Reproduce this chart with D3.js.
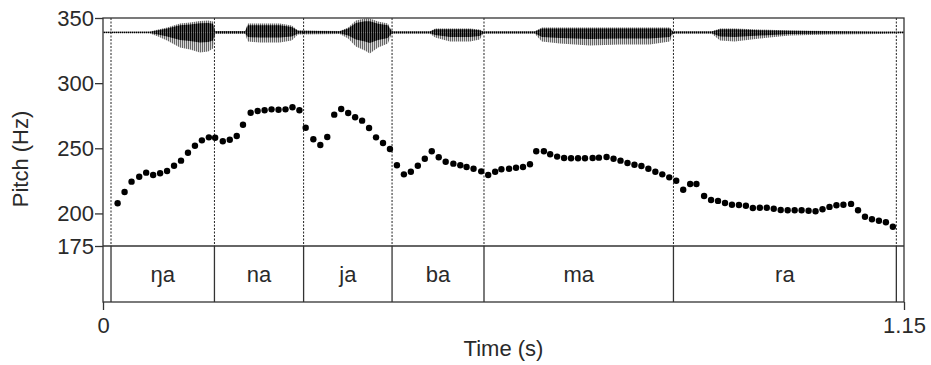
<!DOCTYPE html>
<html>
<head>
<meta charset="utf-8">
<script src="https://cdn.jsdelivr.net/npm/d3@7"></script>
<style>
  body { margin: 0; background: #fff; }
  svg text { font-family: "Liberation Sans", Arial, sans-serif; fill: #2a2a2a; }
</style>
</head>
<body>
<div id="chart"></div>
<script>
// pitch track (time in s, pitch in Hz)
const pitchTimes = [0.021,0.031,0.041,0.052,0.062,0.072,0.082,0.092,0.102,0.112,0.122,0.132,0.142,0.152,0.161,
  0.172,0.182,0.192,0.201,0.212,0.222,0.232,0.242,0.252,0.262,0.272,0.282,0.291,0.302,0.312,0.322,0.332,0.342,
  0.352,0.362,0.372,0.382,0.392,0.402,0.412,0.422,0.432,0.442,0.452,0.462,0.472,0.482,0.492,0.503,0.513,0.522,
  0.532,0.543,0.553,0.563,0.572,0.583,0.593,0.603,0.613,0.622,0.633,0.642,0.652,0.662,0.672,0.682,0.692,0.703,
  0.712,0.723,0.733,0.743,0.753,0.763,0.773,0.783,0.793,0.803,0.813,0.823,0.833,0.843,0.852,0.863,0.873,0.883,
  0.893,0.903,0.913,0.923,0.933,0.943,0.953,0.963,0.973,0.983,0.993,1.003,1.013,1.023,1.033,1.043,1.053,1.063,
  1.074,1.084,1.094,1.104,1.114,1.124,1.134];
const pitchHz = [207.8,216.5,224.4,228.2,231.3,229.5,230.8,232.6,236.6,240.5,246.6,252.0,256.1,258.4,258.1,
  255.4,256.6,259.4,268.1,277.3,278.6,279.2,279.9,279.6,279.9,281.5,279.2,265.8,256.9,252.5,258.7,275.8,280.2,
  277.1,273.8,271.2,265.6,258.4,254.1,249.5,237.0,230.0,232.0,236.6,242.0,247.7,243.1,239.7,238.2,237.0,235.6,
  234.3,232.3,229.5,232.0,233.9,234.3,235.1,235.6,237.7,247.7,247.7,245.4,243.6,242.6,242.3,242.3,242.3,242.6,
  242.8,243.3,242.0,240.5,238.7,237.4,236.4,234.3,232.0,230.0,227.7,225.1,218.2,222.6,222.6,213.4,210.3,209.6,
  208.0,206.7,206.5,205.9,204.2,204.4,204.4,203.6,202.6,202.4,202.4,202.4,202.1,201.7,203.2,205.0,206.3,206.7,
  207.3,202.4,197.5,195.5,194.4,193.2,189.8];

// syllable tier
const boundaries = [0.0115, 0.160, 0.288, 0.415, 0.547, 0.819, 1.139];
const syllables = ["ŋa", "na", "ja", "ba", "ma", "ra"];

// waveform envelope (relative amplitude)
const waveTimes = [0,0.0675,0.079,0.092,0.1105,0.125,0.139,0.151,0.158,0.161,0.204,0.208,0.225,0.254,0.271,0.280,
  0.340,0.352,0.363,0.376,0.383,0.395,0.409,0.4135,0.416,0.4695,0.477,0.498,0.527,0.541,0.5456,0.620,0.630,0.656,
  0.699,0.742,0.785,0.814,0.818,0.874,0.886,0.907,0.943,0.986,1.044,1.115,1.15];
const waveUpper = [0.04,0.05,0.14,0.24,0.43,0.48,0.55,0.57,0.52,0.07,0.07,0.43,0.43,0.43,0.33,0.10,
  0.07,0.24,0.57,0.67,0.67,0.52,0.43,0.14,0.06,0.06,0.19,0.19,0.19,0.14,0.06,0.06,0.24,0.24,
  0.24,0.24,0.24,0.24,0.06,0.06,0.19,0.19,0.14,0.10,0.07,0.05,0.05];
const waveLower = [0.04,0.05,0.19,0.38,0.71,0.81,0.95,0.90,0.76,0.07,0.07,0.43,0.48,0.48,0.38,0.10,
  0.07,0.29,0.67,0.86,1.00,0.71,0.52,0.14,0.06,0.06,0.24,0.43,0.43,0.33,0.06,0.06,0.43,0.52,
  0.62,0.57,0.57,0.43,0.06,0.06,0.38,0.43,0.29,0.14,0.10,0.07,0.05];

const pitchTicks = [175, 200, 250, 300, 350];
const timeTicks = [0, 1.15];

const width = 931, height = 365;
const svg = d3.select("#chart").append("svg")
  .attr("width", width)
  .attr("height", height);

const x = d3.scaleLinear().domain([0, 1.15]).range([103, 904]);
const y = d3.scaleLinear().domain([175, 350]).range([246, 18]);
const waveMid = 32.5;
const amp = d3.scaleLinear().domain([-1, 1]).range([waveMid + 21, waveMid - 21]);
const tierTop = 246, tierBottom = 302;

// stripe patterns for the oscillogram
const defs = svg.append("defs");
function stripes(id, bg, fg) {
  const p = defs.append("pattern")
    .attr("id", id)
    .attr("patternUnits", "userSpaceOnUse")
    .attr("width", 2).attr("height", 4);
  p.append("rect").attr("width", 2).attr("height", 4).attr("fill", bg);
  p.append("rect").attr("width", 1).attr("height", 4).attr("fill", fg);
}
stripes("outer", "#d8d8d8", "#666");
stripes("inner", "#555", "#000");

const waveData = waveTimes.map((t, i) => ({ t, up: waveUpper[i], lo: waveLower[i] }));

svg.append("path")
  .datum(waveData)
  .attr("fill", "url(#outer)")
  .attr("d", d3.area()
    .x(d => x(d.t))
    .y0(d => amp(-d.lo))
    .y1(d => amp(d.up)));

svg.append("path")
  .datum(waveData)
  .attr("fill", "url(#inner)")
  .attr("d", d3.area()
    .x(d => x(d.t))
    .y0(d => amp(-d.lo * 0.5))
    .y1(d => amp(d.up * 0.8)));

svg.append("line")
  .attr("x1", x(0)).attr("x2", x(1.15))
  .attr("y1", waveMid).attr("y2", waveMid)
  .attr("stroke", "#777")
  .attr("stroke-width", 1)
  .attr("stroke-dasharray", "1,1");

// boundaries: dotted above the tier, solid inside it
svg.selectAll(".bdot")
  .data(boundaries)
  .enter().append("line")
  .attr("x1", d => x(d)).attr("x2", d => x(d))
  .attr("y1", y(350)).attr("y2", tierTop)
  .attr("stroke", "#222")
  .attr("stroke-width", 1)
  .attr("stroke-dasharray", "2,1.5");

svg.selectAll(".bsolid")
  .data(boundaries)
  .enter().append("line")
  .attr("x1", d => x(d)).attr("x2", d => x(d))
  .attr("y1", tierTop).attr("y2", tierBottom)
  .attr("stroke", "#333")
  .attr("stroke-width", 1.3);

svg.selectAll(".syl")
  .data(syllables)
  .enter().append("text")
  .attr("x", (d, i) => (x(boundaries[i]) + x(boundaries[i + 1])) / 2)
  .attr("y", 282)
  .attr("text-anchor", "middle")
  .style("font-size", "22px")
  .text(d => d);

// pitch points
svg.selectAll("circle")
  .data(pitchTimes)
  .enter().append("circle")
  .attr("cx", d => x(d))
  .attr("cy", (d, i) => y(pitchHz[i]))
  .attr("r", 3.2)
  .attr("fill", "#000");

// frame
svg.append("rect")
  .attr("x", x(0)).attr("y", y(350))
  .attr("width", x(1.15) - x(0))
  .attr("height", tierBottom - y(350))
  .attr("fill", "none")
  .attr("stroke", "#333")
  .attr("stroke-width", 1.3);

svg.append("line")
  .attr("x1", x(0)).attr("x2", x(1.15))
  .attr("y1", tierTop).attr("y2", tierTop)
  .attr("stroke", "#333")
  .attr("stroke-width", 1.3);

// axes
const yAxis = svg.append("g")
  .attr("transform", `translate(${x(0)},0)`)
  .call(d3.axisLeft(y).tickValues(pitchTicks).tickSize(8).tickPadding(1));
yAxis.select(".domain").remove();
yAxis.selectAll("line").attr("stroke", "#333").attr("stroke-width", 1.3);
yAxis.selectAll("text").style("font-size", "22px").attr("fill", "#2a2a2a");

const xAxis = svg.append("g")
  .attr("transform", `translate(0,${tierBottom})`)
  .call(d3.axisBottom(x).tickValues(timeTicks).tickSize(8).tickPadding(7)
    .tickFormat(d => d === 0 ? "0" : d3.format(".2f")(d)));
xAxis.select(".domain").remove();
xAxis.selectAll("line").attr("stroke", "#333").attr("stroke-width", 1.3);
xAxis.selectAll("text").style("font-size", "22px").attr("fill", "#2a2a2a");

svg.append("text")
  .attr("x", (x(0) + x(1.15)) / 2)
  .attr("y", 356)
  .attr("text-anchor", "middle")
  .style("font-size", "22px")
  .text("Time (s)");

svg.append("text")
  .attr("transform", "translate(28,159) rotate(-90)")
  .attr("text-anchor", "middle")
  .style("font-size", "22px")
  .text("Pitch (Hz)");
</script>
</body>
</html>
